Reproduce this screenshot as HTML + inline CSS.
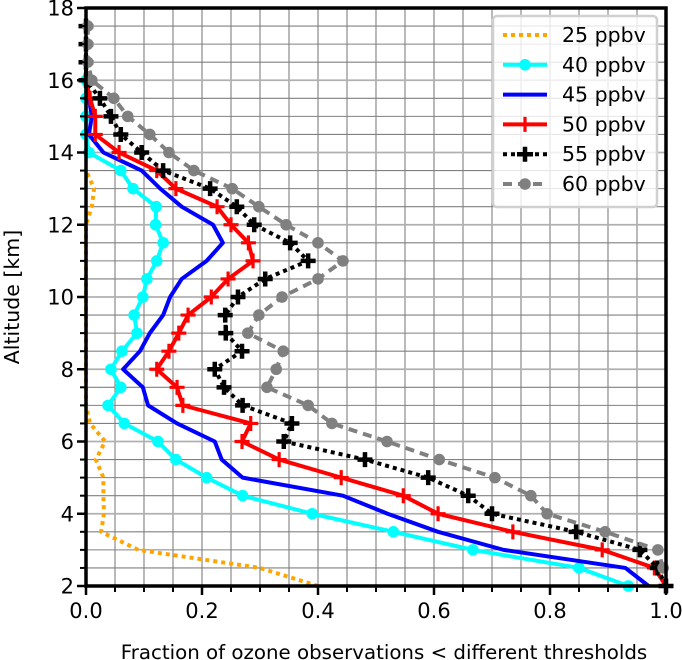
<!DOCTYPE html>
<html><head><meta charset="utf-8"><style>
body{margin:0;background:#fff;}
svg{display:block;font-family:"DejaVu Sans","Liberation Sans",sans-serif;}
</style></head><body>
<svg id="chart" width="682" height="660" viewBox="0 0 682 660" xmlns="http://www.w3.org/2000/svg">
<g id="grid"></g>
<g id="series"></g>
<g id="axes"></g>
<g id="legend"></g>
<text x="384" y="659" font-size="19.8" text-anchor="middle">Fraction of ozone observations &lt; different thresholds</text>
<text transform="translate(19,297) rotate(-90)" font-size="20.5" text-anchor="middle">Altitude [km]</text>
</svg>
<script>
const altitudes=[2,2.5,3,3.5,4,4.5,5,5.5,6,6.5,7,7.5,8,8.5,9,9.5,10,10.5,11,11.5,12,12.5,13,13.5,14,14.5,15,15.5,16,16.5,17,17.5];
const s25=[0.40,0.30,0.09,0.026,0.031,0.03,0.03,0.017,0.033,0.007,0,0,0,0,0,0,0,0,0,0,0,0.01,0.014,0];
const s40=[0.935,0.85,0.667,0.53,0.39,0.27,0.208,0.155,0.124,0.066,0.038,0.06,0.043,0.062,0.088,0.083,0.098,0.105,0.122,0.133,0.12,0.121,0.081,0.06,0.005,0,0,0,0];
const s45=[0.97,0.93,0.72,0.607,0.52,0.443,0.27,0.234,0.222,0.157,0.107,0.098,0.064,0.093,0.11,0.133,0.145,0.165,0.208,0.236,0.219,0.165,0.128,0.096,0.03,0.005,0.01,0.005,0];
const s50=[1.0,0.98,0.89,0.736,0.607,0.547,0.44,0.333,0.269,0.284,0.167,0.157,0.122,0.143,0.16,0.176,0.216,0.245,0.288,0.28,0.25,0.226,0.155,0.122,0.057,0.016,0.016,0.007,0];
const s55=[1.0,0.985,0.955,0.845,0.70,0.659,0.59,0.481,0.341,0.355,0.27,0.238,0.222,0.269,0.241,0.24,0.262,0.309,0.383,0.352,0.29,0.26,0.214,0.133,0.096,0.06,0.043,0.024,0,0,0,0];
const s60=[null,0.995,0.986,0.895,0.795,0.767,0.705,0.609,0.519,0.424,0.383,0.312,0.328,0.34,0.279,0.298,0.338,0.4,0.443,0.4,0.345,0.298,0.252,0.186,0.143,0.11,0.072,0.048,0.01,0.003,0.003,0.003];
const xTicks=[0,0.2,0.4,0.6,0.8,1.0];
const xTickLabels=["0.0","0.2","0.4","0.6","0.8","1.0"];
const yTicks=[2,4,6,8,10,12,14,16,18];
const legendLabels=["25 ppbv","40 ppbv","45 ppbv","50 ppbv","55 ppbv","60 ppbv"];

const X0=86,X1=666,Y0=586,Y1=8;
function xs(v){return X0+(X1-X0)*v;}
function ys(v){return Y0-(Y0-Y1)*(v-2)/16;}
const NS="http://www.w3.org/2000/svg";
function mk(tag,attrs,parent){const e=document.createElementNS(NS,tag);for(const k in attrs)e.setAttribute(k,attrs[k]);parent.appendChild(e);return e;}

const grid=document.getElementById('grid');
for(let i=0;i<=20;i++){const v=i*0.05;const maj=i%4===0;
 const l=mk('line',{x1:xs(v),x2:xs(v),y1:Y1,y2:Y0,stroke:maj?'#b0b0b0':'#808080','stroke-width':maj?1.8:1.1},grid);
 
 }
for(let i=0;i<=32;i++){const v=2+i*0.5;const maj=i%4===0;
 const l=mk('line',{x1:X0,x2:X1,y1:ys(v),y2:ys(v),stroke:maj?'#b0b0b0':'#808080','stroke-width':maj?1.8:1.1},grid);
 
 }

const ser=document.getElementById('series');
function pts(arr){const p=[];arr.forEach((v,i)=>{if(v!==null&&v!==undefined)p.push([xs(v),ys(altitudes[i])]);});return p;}
function drawLine(arr,color,w,dash,name){
 const p=pts(arr);
 const pl=mk('polyline',{points:p.map(q=>q.join(',')).join(' '),fill:'none',stroke:color,'stroke-width':w,'stroke-linejoin':'round'},ser);
 if(dash)pl.setAttribute('stroke-dasharray',dash);
 
 
 return p;}
function circles(p,color,r,name){p.forEach(q=>{const c=mk('circle',{cx:q[0],cy:q[1],r:r,fill:color},ser);
 
 });}
function plus(p,color,s,w,name){p.forEach(q=>{const g=mk('path',{d:`M${q[0]-s},${q[1]}H${q[0]+s}M${q[0]},${q[1]-s}V${q[1]+s}`,stroke:color,'stroke-width':w,fill:'none'},ser);
 
 });}

drawLine(s25,'#ffa500',4,'4,4','series-25ppbv');
let p40=drawLine(s40,'#00ffff',4,null,'series-40ppbv');circles(p40,'#00ffff',5.8,'marker-40ppbv');
drawLine(s45,'#0000ff',4,null,'series-45ppbv');
let p50=drawLine(s50,'#ff0000',4,null,'series-50ppbv');plus(p50,'#ff0000',7.5,3.2,'marker-50ppbv');
let p55=drawLine(s55,'#000000',4,'4,4','series-55ppbv');plus(p55,'#000000',7.5,4.5,'marker-55ppbv');
let p60=drawLine(s60,'#808080',4,'9,6','series-60ppbv');circles(p60,'#808080',5.8,'marker-60ppbv');

const ax=document.getElementById('axes');
for(let i=0;i<=20;i++){const v=i*0.05;const maj=i%4===0;
 const t=mk('line',{x1:xs(v),x2:xs(v),y1:Y0,y2:Y0+(maj?9:6),stroke:'#000','stroke-width':maj?2.5:2},ax);
 
 }
for(let i=0;i<=32;i++){const v=2+i*0.5;const maj=i%4===0;
 const t=mk('line',{x1:X0-(maj?9:6),x2:X0,y1:ys(v),y2:ys(v),stroke:'#000','stroke-width':maj?2.5:2},ax);
 
 }
xTicks.forEach((v,i)=>{const t=mk('text',{x:xs(v),y:Y0+32,'font-size':21,'text-anchor':'middle'},ax);t.textContent=xTickLabels[i];
 
 });
yTicks.forEach(v=>{const t=mk('text',{x:X0-12,y:ys(v)+7.5,'font-size':21,'text-anchor':'end'},ax);t.textContent=String(v);
 
 });
const fr=mk('rect',{x:X0,y:Y1,width:X1-X0,height:Y0-Y1,fill:'none',stroke:'#000','stroke-width':3.5},ax);



const lg=document.getElementById('legend');
const box=mk('rect',{x:493,y:16,width:164,height:191,rx:4,fill:'rgba(255,255,255,0.8)',stroke:'#d0d0d0','stroke-width':2.5},lg);


const lc=['#ffa500','#00ffff','#0000ff','#ff0000','#000000','#808080'];
const ld=['4,4',null,null,null,'4,4','9,6'];
legendLabels.forEach((lab,i)=>{const y=35+i*29.8;
 const g=mk('g',{},lg);
 
 
 const l=mk('line',{x1:503,x2:547,y1:y,y2:y,stroke:lc[i],'stroke-width':4},g);
 if(ld[i])l.setAttribute('stroke-dasharray',ld[i]);
 if(i===1||i===5)mk('circle',{cx:525,cy:y,r:5.8,fill:lc[i]},g);
 if(i===3||i===4)mk('path',{d:`M517,${y}H533M525,${y-7.5}V${y+7.5}`,stroke:lc[i],'stroke-width':i===4?4.5:3.2},g);
 const t=mk('text',{x:562,y:y+7,'font-size':20.5},g);t.textContent=lab;});
</script>
</body></html>
